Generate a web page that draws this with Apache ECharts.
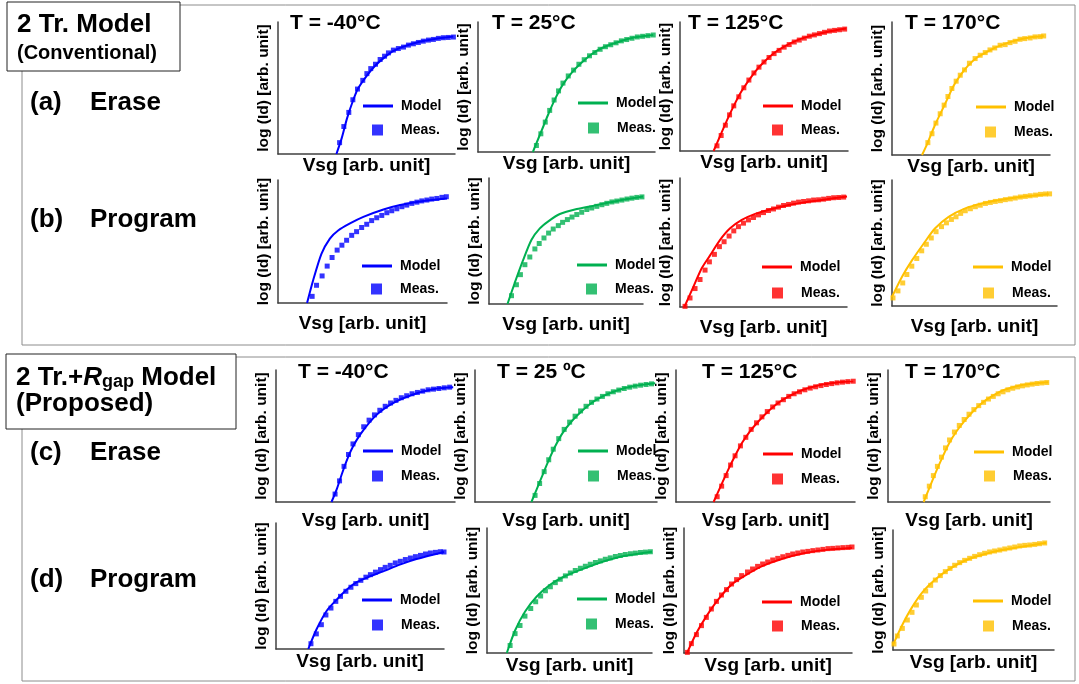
<!DOCTYPE html>
<html><head><meta charset="utf-8">
<script src="https://cdn.jsdelivr.net/npm/echarts@6/dist/echarts.min.js"></script>
<style>html,body{margin:0;padding:0;background:#fff}#c{width:1079px;height:684px}</style>
</head><body><div id="c"></div>
<script>
// ---------- DATA (x: Vsg %, y: log(Id) % of axis range, arb. units) ----------
const tempLabelsTop = ['T = -40°C', 'T = 25°C', 'T = 125°C', 'T = 170°C'];
const tempLabelsBottom = ['T = -40°C', 'T = 25 ºC', 'T = 125°C', 'T = 170°C'];
const xName = 'Vsg [arb. unit]';
const yName = 'log (Id) [arb. unit]';

// (a) Conventional, Erase
const a_m40_model = [[33,0],[36,12],[39,27],[42,39],[45,49],[50,59],[55,67],[60,73],[65,78],[70,81],[80,85],[90,87.5],[99,89]];
const a_m40_meas = [[34.8,8.6],[37.2,20.8],[40,31.5],[42.3,41.1],[44.9,49.2],[47.9,55.8],[50.2,60.9],[52.4,64.7],[55.1,68],[57.7,71.6],[60.2,74.1],[62.4,76.6],[65.2,78.7],[68,79.9],[70.9,81],[73.7,82.5],[76.5,83.5],[79.3,84.5],[82.1,85.5],[85,86.3],[87.8,86.8],[90.6,87.6],[93.4,88.1],[96.2,88.3],[99.1,88.6]];
const a_25_model = [[31,0],[34,10],[37,20],[40,30],[44,42],[48,52],[53,61],[58,68],[64,75],[70,80],[78,84],[88,88],[99,90]];
const a_25_meas = [[33,5],[35.5,14],[38,23],[40.5,32],[43,40],[45.5,47],[48,53],[51,58.5],[54,63],[57,67.5],[60,71],[63,74],[66,76.5],[69,79],[72,81],[75,82.5],[78,84],[81,85.5],[84,86.5],[87,87.5],[90,88.5],[93,89],[96,89.5],[99,90]];
const a_125_model = [[20,0],[24,12],[28,24],[32,35],[36,45],[40,53],[45,62],[50,69],[56,76],[62,81],[70,86],[80,90],[90,93],[99,95]];
const a_125_meas = [[22,4],[24.5,12],[27,20],[29.5,28],[32,35],[35,42],[38,49],[41,55],[44,60.5],[47,65],[50,69],[53,72.5],[56,75.5],[59,78],[62,80.5],[65,82.5],[68,84.5],[71,86],[74,87.5],[77,89],[80,90],[83,91],[86,92],[89,93],[92,93.5],[95,94],[98,94.5]];
const a_170_model = [[19,0],[22.5,9],[27,22],[31,32],[35,42],[39,52],[43,59.5],[48,67],[54,73.5],[60,77.5],[68,82],[78,86],[88,88.5],[96,89.5]];
const a_170_meas = [[22.7,9.3],[25.3,16],[27.8,24],[30.5,31],[33,37.5],[35.4,44],[37.9,50],[40.6,55.5],[43.2,60],[45.9,64],[49,69],[52.6,72.5],[55.8,75],[59,77],[62,79],[65,80.5],[68.4,82.5],[71.6,83],[74.7,84.5],[77.9,85.5],[81,87],[84,87.5],[87.4,88],[90.5,88.8],[93.7,89],[96,89.5]];

// (b) Conventional, Program
const b_m40_model = [[17.2,0],[20.8,18.5],[25.7,40],[30.7,52.4],[35.6,59],[42.6,64.7],[50.5,70],[62.4,76],[72.3,79.6],[86,83],[100,85]];
const b_m40_meas = [[20.2,5.4],[22.8,14.4],[26.1,22],[29.1,30],[32,37],[35,43],[37.8,47],[40.6,51],[43.6,55],[46.5,58],[49.5,61.4],[52.5,64],[55.4,67],[58.4,69.3],[61.4,71.2],[64.4,73.4],[67.3,75],[70.3,76.6],[73.3,78.3],[76.2,79.6],[79.2,81],[82.2,82],[85.1,83],[88.1,83.7],[91,84.5],[94,85],[97,85.9],[99.6,86.4]];
const b_25_model = [[12,0],[16.7,16.7],[22.2,35],[27.6,51],[33,60],[38.5,65.6],[46,71.4],[57,75.4],[67.8,78],[78.7,80.7],[89.6,83.3],[100,85.4]];
const b_25_meas = [[14.6,6.6],[17.8,15.3],[20.4,23.3],[23.3,31.2],[26.5,37.3],[29.8,43.7],[32.6,48],[35.7,52.4],[38.7,56.3],[41.7,59.5],[45,62.2],[47.8,64.8],[50.9,67],[53.9,69],[57,71],[60.2,72.8],[63.5,75],[66.7,76.2],[70,77.5],[73.3,78.8],[76.5,79.9],[79.8,81],[83,81.7],[86.3,82.5],[89.6,83.3],[92.8,84],[96,84.6],[99.3,85]];
const b_125_model = [[2.6,0],[8,15.6],[13,30],[18,40],[24,52],[30,61],[37,67.5],[45,72.2],[55,76],[65,79],[75,81.3],[85,83],[100,85.7]];
const b_125_meas = [[3,0.5],[6,7],[9,14.3],[12,21.3],[15,28.6],[17.6,35],[20.6,40.8],[23.6,46.8],[26.4,50.6],[29.4,55],[32.2,59],[35,62.3],[38,65],[41,67.5],[44,69.4],[47,71.4],[50,73.2],[53,74.8],[56,76],[59,77.4],[62,78.7],[65,79.5],[68,80.5],[71,81.3],[74,81.8],[77,82.3],[80,82.9],[83,83.1],[86,83.6],[89,84.2],[92,84.7],[95,84.9],[98,85.2]];
const b_170_model = [[0,7.2],[6,23],[12,36],[20,51],[26,61.5],[34.3,70.8],[44.4,77.5],[54.5,81.4],[64.6,84],[78.8,86.7],[95,88.9]];
const b_170_meas = [[0.6,6.4],[3.6,12],[6.5,18.3],[9,25],[12,31.6],[15,37.7],[18,43.8],[20.8,49],[23.8,54],[26.7,59],[30,63],[33,66],[36,68.7],[38.8,70.8],[41.6,73.5],[44.4,75.6],[47.5,77.2],[50.5,78.8],[53.5,80],[56.6,81.4],[59.6,82.2],[62.6,83],[65.7,83.6],[68.7,84.4],[71.7,85],[74.7,85.7],[77.8,86.5],[80.8,87],[83.8,87.5],[87,88],[90,88.6],[93,88.9],[95.5,89]];

// (c) Proposed, Erase
const c_m40_model = [[31,0],[34,10],[37,22],[40,33],[43,42],[47,51],[52,60],[57,67],[63,73],[70,78],[80,83],[90,86],[99,87]];
const c_m40_meas = [[33,6],[35.5,16],[38,27],[40.5,36],[43,44],[46,51],[49,57],[52,62],[55,66],[58,69.5],[61,72.5],[64,75],[67,77],[70,79],[73,80.5],[76,82],[79,83],[82,84],[85,85],[88,85.5],[91,86],[94,86.5],[97,87]];
const c_25_model = [[31,0],[34,10],[37,20],[40,30],[44,42],[48,52],[53,61],[58,68],[64,75],[70,80],[78,84.5],[88,88],[99,90]];
const c_25_meas = [[33,5],[35.5,14],[38,23],[40.5,32],[43,40],[46,48],[49,55],[52,60.5],[55,65],[58,69],[61,72.5],[64,75.5],[67,78],[70,80],[73,82],[76,83.5],[79,84.8],[82,86],[85,87],[88,87.8],[91,88.5],[94,89],[97,89.5]];
const c_125_model = [[21,0],[25,12],[29,24],[33,35],[37,45],[41,53],[46,61],[51,68],[57,75],[63,80],[70,84.5],[80,88.5],[90,90.5],[99,91.5]];
const c_125_meas = [[23,4],[25.5,12],[28,20],[30.5,28],[33,35],[36,42.5],[39,49],[42,55],[45,60],[48,64.5],[51,68.5],[54,72],[57,75],[60,77.5],[63,80],[66,82],[69,83.5],[72,85],[75,86.3],[78,87.3],[81,88.2],[84,89],[87,89.7],[90,90.3],[93,90.8],[96,91.2],[99,91.5]];
const c_170_model = [[22,0],[26,12],[30,24],[34,35],[38,45],[42,53],[47,61],[52,68],[58,75],[64,80],[72,85],[82,88.5],[92,90],[99,90.7]];
const c_170_meas = [[23,4],[25.5,12],[28,20],[30.5,27],[33,34],[35.5,41],[38,47],[41,53],[44,58],[47,62.5],[50,66.5],[53,70],[56,73],[59,75.5],[62,78],[65,80],[68,82],[71,83.5],[74,85],[77,86.2],[80,87.2],[83,88],[86,88.7],[89,89.3],[92,89.8],[95,90.2],[98,90.5]];

// (d) Proposed, Program
const d_m40_model = [[19.2,0],[24,15.3],[30,30],[36,39],[42,47],[48,53],[56,57.7],[63.8,61.6],[73.7,67],[83.6,71.4],[100,77]];
const d_m40_meas = [[20.8,4.2],[24,12],[27,19.3],[29.7,27],[32.7,32.5],[35.6,37.8],[38.4,41.8],[41.6,45.8],[44.6,49],[47.5,51.9],[50.5,54.5],[53.5,57],[56.2,59],[59.2,61],[62.2,63],[65,64.8],[68,66.4],[71,68.3],[74,69.6],[77,71],[80,72.2],[83,73.3],[86,74.3],[89,75.4],[91.9,76.2],[94.9,76.7],[97.8,77.2],[100,77]];
const d_25_model = [[12,0],[17,18],[23,33],[30,45],[38,54.4],[46.5,61],[56.6,66.5],[68.7,72.4],[80.8,77],[100,81]];
const d_25_meas = [[14,6],[17,15.5],[20,22],[23,29.5],[26.5,35.6],[29.5,41],[32.5,45.6],[35.4,49.8],[38.4,53],[41.4,56.3],[44.4,59],[47.5,61.7],[50.5,64],[53.5,66],[56.6,67.8],[59.6,69.4],[62.6,71],[65.7,72.4],[68.7,73.7],[71.7,75],[74.7,76.1],[77.8,77.2],[80.8,78],[83.8,78.8],[86.9,79.4],[89.9,79.9],[93,80.4],[96,80.7],[99,81]];
const d_125_model = [[1.8,0],[7.4,16],[13.3,29.3],[20.3,42.7],[28.3,54.7],[37.3,62.7],[46.2,69.3],[58.2,75.2],[72,80],[86,82.7],[100,84]];
const d_125_meas = [[2,0.5],[4.4,7.5],[7.4,14.7],[10.4,21.9],[13.3,28.5],[16.3,35.2],[19.3,41.3],[22.3,46.4],[25.3,50.7],[28.3,55.2],[31.3,58.7],[34.3,61.9],[37.8,64.8],[40.8,67.2],[43.8,69.3],[46.8,71.2],[49.8,72.8],[52.8,74.4],[55.8,75.7],[58.8,77],[61.8,78.1],[64.7,79.2],[67.7,80],[70.7,80.8],[73.7,81.3],[76.7,81.9],[79.7,82.4],[82.7,82.9],[85.7,83.5],[88.6,83.7],[91.6,84],[94.6,84.3],[97.6,84.5],[100,84.8]];
const d_170_model = [[0,4.2],[5.2,19.4],[11.4,34.7],[18.6,48.6],[25.9,58.3],[34.2,66.7],[44.5,74.4],[54.9,79.2],[67.3,83.3],[79.7,86],[95.2,89.4]];
const d_170_meas = [[0.6,5],[2.7,11.7],[5.8,18],[8.9,25],[11.8,31.4],[14.5,37.5],[17.6,43.9],[20.3,49.2],[23.4,53.9],[26.3,58.3],[29.4,62],[32.5,65.3],[35.4,68],[38.3,70.6],[41.4,72.8],[44.5,74.7],[47.6,76.4],[50.7,78],[53.8,79.4],[56.9,80.6],[60,81.7],[63.1,82.5],[66.3,83.3],[69.4,84.2],[72.5,85],[75.6,85.8],[78.7,86.7],[81.8,87.2],[84.9,87.5],[88,88],[91,88.6],[94.2,89.2]];

// ---------- LAYOUT ----------
const FONT = '"Liberation Sans", Arial, sans-serif';
const colors = ['#0000FF', '#00B050', '#FF0000', '#FFC000'];
const dataSets = [
  [[a_m40_model,a_m40_meas],[a_25_model,a_25_meas],[a_125_model,a_125_meas],[a_170_model,a_170_meas]],
  [[b_m40_model,b_m40_meas],[b_25_model,b_25_meas],[b_125_model,b_125_meas],[b_170_model,b_170_meas]],
  [[c_m40_model,c_m40_meas],[c_25_model,c_25_meas],[c_125_model,c_125_meas],[c_170_model,c_170_meas]],
  [[d_m40_model,d_m40_meas],[d_25_model,d_25_meas],[d_125_model,d_125_meas],[d_170_model,d_170_meas]]
];
// grid boxes [left, top, right, bottom] in px
const boxes = [
  [[278,22,455,154],[478,22,655,152],[680,22,848,151],[892,22,1050,155]],
  [[278,180,447,303],[489,178,643,304],[680,178,847,307],[892,180,1057,306]],
  [[276,370,455,502],[475,370,657,502],[676,370,855,502],[888,370,1050,502]],
  [[276,523,444,649],[487,528,652,653],[684,528,852,653],[893,530,1054,650]]
];
const xGaps = [2, 11, 9, 3];
// legend [modelIconX, modelY, measIconX, measY]
const legendPos = [
  [[363,107,372,131],[578,104,588,129],[763,107,772,131],[976,108,985,133]],
  [[362,267,371,290],[577,266,586,290],[762,268,772,294],[973,268,983,294]],
  [[363,452,372,477],[578,452,588,477],[763,455,772,480],[974,453,984,477]],
  [[362,601,372,626],[577,600,586,625],[762,603,772,627],[973,602,983,627]]
];
const titlePos = [[[290,23],[492,23],[688,23],[905,23]], [[298,372],[497,372],[702,372],[905,372]]];

const grid = [], xAxis = [], yAxis = [], series = [], legend = [], graphic = [];
let idx = 0;
for (let r = 0; r < 4; r++) {
  for (let c = 0; c < 4; c++) {
    const b = boxes[r][c];
    const col = colors[c];
    grid.push({left: b[0], top: b[1], width: b[2]-b[0], height: b[3]-b[1], containLabel: false});
    const axisBase = {
      gridIndex: idx, type: 'value', min: 0, max: 100,
      axisTick: {show: false}, axisLabel: {show: false}, splitLine: {show: false},
      axisLine: {show: true, lineStyle: {color: '#404040', width: 1.5}},
      nameLocation: 'middle'
    };
    xAxis.push(Object.assign({}, axisBase, {
      name: xName, nameGap: xGaps[r],
      nameTextStyle: {fontSize: 19, fontWeight: 'bold', color: '#000', fontFamily: FONT}
    }));
    yAxis.push(Object.assign({}, axisBase, {
      name: yName, nameGap: 6,
      nameTextStyle: {fontSize: 15.5, fontWeight: 'bold', color: '#000', fontFamily: FONT}
    }));
    const [model, meas] = dataSets[r][c];
    series.push({
      type: 'line', name: 'Model', xAxisIndex: idx, yAxisIndex: idx, data: model,
      showSymbol: false, smooth: 0.25, lineStyle: {color: col, width: 2}, itemStyle: {color: col},
      z: 2, animation: false, silent: true
    });
    series.push({
      type: 'scatter', name: 'Meas.', xAxisIndex: idx, yAxisIndex: idx, data: meas,
      symbol: 'rect', symbolSize: 5, itemStyle: {color: col}, z: 3, animation: false, silent: true
    });
    const lp = legendPos[r][c];
    legend.push({
      left: lp[0], top: lp[1] - 8, padding: 0, selectedMode: false,
      itemWidth: 30, itemHeight: 3,
      data: [{name: 'Model', icon: 'rect', itemStyle: {color: col}, lineStyle: {color: col}}],
      textStyle: {fontSize: 14, fontWeight: 'bold', color: '#000', fontFamily: FONT, padding: [0,0,0,3]}
    });
    legend.push({
      left: lp[2], top: lp[3] - 8, padding: 0, selectedMode: false,
      itemWidth: 11, itemHeight: 11,
      data: [{name: 'Meas.', icon: 'rect', itemStyle: {color: col}}],
      textStyle: {fontSize: 14, fontWeight: 'bold', color: '#000', fontFamily: FONT, padding: [0,0,0,13]}
    });
    idx++;
  }
}

// frames & boxes
graphic.push({type:'rect', shape:{x:22, y:5, width:1053, height:340}, style:{fill:'none', stroke:'#8c8c8c', lineWidth:1}, z:0});
graphic.push({type:'rect', shape:{x:22, y:357, width:1053, height:324}, style:{fill:'none', stroke:'#8c8c8c', lineWidth:1}, z:0});
graphic.push({type:'rect', shape:{x:7, y:2, width:173, height:69}, style:{fill:'#fff', stroke:'#222', lineWidth:1}, z:5});
graphic.push({type:'rect', shape:{x:6, y:354, width:230, height:75}, style:{fill:'#fff', stroke:'#222', lineWidth:1}, z:5});
graphic.push({type:'text', x:17, y:25, z:6, style:{text:'2 Tr. Model', font:'bold 26px ' + FONT, fill:'#000', textVerticalAlign:'middle'}});
graphic.push({type:'text', x:17, y:53, z:6, style:{text:'(Conventional)', font:'bold 20px ' + FONT, fill:'#000', textVerticalAlign:'middle'}});
graphic.push({type:'text', x:16, y:378, z:6, style:{
  text:'{n|2 Tr.+}{i|R}{s|gap}{n| Model}', fill:'#000', textVerticalAlign:'middle',
  rich:{n:{font:'bold 26px ' + FONT}, i:{font:'italic bold 26px ' + FONT}, s:{font:'bold 18px ' + FONT, padding:[8,0,0,0]}}
}});
graphic.push({type:'text', x:16, y:404, z:6, style:{text:'(Proposed)', font:'bold 26px ' + FONT, fill:'#000', textVerticalAlign:'middle'}});
const rowLabels = [['(a)','Erase',103],['(b)','Program',220],['(c)','Erase',453],['(d)','Program',580]];
rowLabels.forEach(l => {
  graphic.push({type:'text', x:30, y:l[2], style:{text:l[0], font:'bold 26px ' + FONT, fill:'#000', textVerticalAlign:'middle'}});
  graphic.push({type:'text', x:90, y:l[2], style:{text:l[1], font:'bold 26px ' + FONT, fill:'#000', textVerticalAlign:'middle'}});
});
[tempLabelsTop, tempLabelsBottom].forEach((labs, k) => {
  labs.forEach((t, c) => {
    const p = titlePos[k][c];
    graphic.push({type:'text', x:p[0], y:p[1], style:{text:t, font:'bold 21px ' + FONT, fill:'#000', textVerticalAlign:'middle'}});
  });
});

const chart = echarts.init(document.getElementById('c'), null, {renderer: 'canvas'});
chart.setOption({animation: false, backgroundColor: '#fff', grid, xAxis, yAxis, series, legend, graphic});
</script></body></html>
